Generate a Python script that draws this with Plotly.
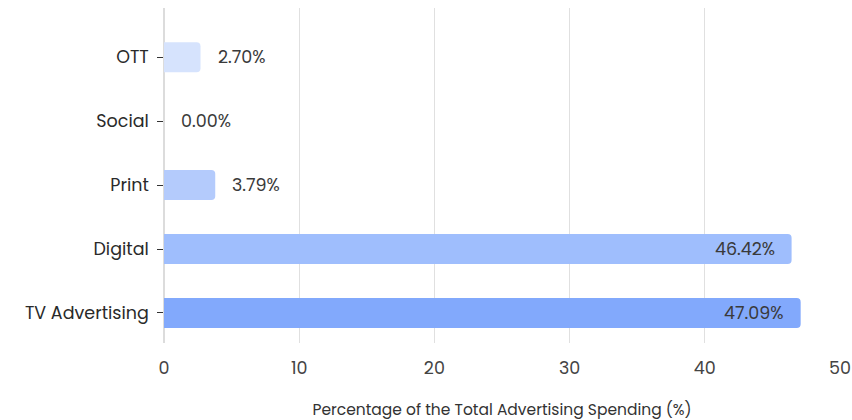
import plotly.graph_objects as go

# Share of total advertising spending by channel (bottom to top)
channels = ["TV Advertising", "Digital", "Print", "Social", "OTT"]
share_pct = [47.09, 46.42, 3.79, 0.00, 2.70]
bar_colors = ["#82a9fc", "#9fbefd", "#b4cbfc", "#c6d8fd", "#d6e3fd"]

x_ticks = [0, 10, 20, 30, 40, 50]
x_title = "Percentage of the Total Advertising Spending (%)"

FONT = "Poppins, Inter, 'Noto Sans', sans-serif"

fig = go.Figure(
    go.Bar(
        x=share_pct,
        y=channels,
        orientation="h",
        width=0.47,
        marker=dict(color=bar_colors, line=dict(width=0)),
        hoverinfo="skip",
    )
)

# Value labels: inside the end of long bars, just past the end of short ones
for ch, v in zip(channels, share_pct):
    inside = v > 20
    fig.add_annotation(
        x=v,
        y=ch,
        text=f"{v:.2f}%",
        showarrow=False,
        xanchor="right" if inside else "left",
        xshift=-15 if inside else 15,
        font=dict(family=FONT, size=17.5, color="#3a3a3a"),
    )

fig.update_layout(
    width=852,
    height=420,
    margin=dict(l=164, r=12, t=8, b=77),
    paper_bgcolor="white",
    plot_bgcolor="white",
    barcornerradius=4,
    showlegend=False,
    font=dict(family=FONT, color="#333333"),
    xaxis=dict(
        range=[0, 50],
        automargin=False,
        tickvals=x_ticks,
        ticktext=[str(t) for t in x_ticks],
        showgrid=True,
        gridcolor="#e0e0e0",
        gridwidth=1,
        zeroline=True,
        zerolinecolor="#dcdcdc",
        zerolinewidth=1.5,
        showline=False,
        ticks="",
        ticklabelstandoff=12,
        tickfont=dict(family=FONT, size=17.5, color="#444444"),
        title=dict(
            text=x_title,
            font=dict(family=FONT, size=15.5, color="#333333"),
            standoff=25,
        ),
    ),
    yaxis=dict(
        categoryorder="array",
        categoryarray=channels,
        range=[-0.47, 4.77],
        automargin=False,
        showgrid=False,
        zeroline=False,
        showline=False,
        ticks="outside",
        ticklen=6,
        tickwidth=1,
        tickcolor="#333333",
        ticksuffix=" ",
        tickfont=dict(family=FONT, size=17.5, color="#2a2a2a"),
    ),
)

fig.write_html("out.html")
